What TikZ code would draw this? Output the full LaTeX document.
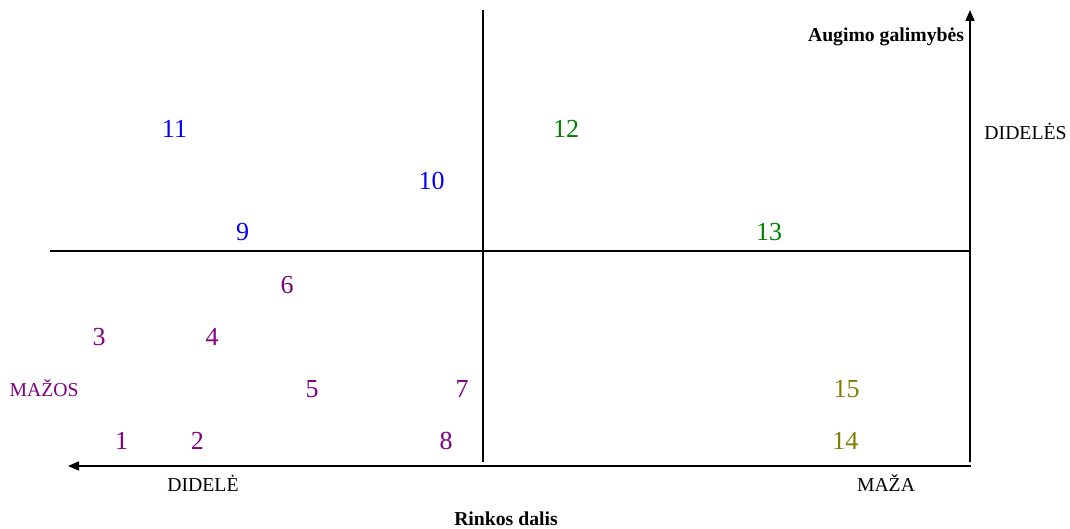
\documentclass[tikz,border=0pt]{standalone}
\usepackage{fontspec}
\setmainfont{Liberation Serif}
\usetikzlibrary{arrows.meta}
\definecolor{cblue}{RGB}{0,0,255}
\definecolor{cgreen}{RGB}{0,128,0}
\definecolor{cpurple}{RGB}{128,0,128}
\definecolor{colive}{RGB}{128,128,0}
\begin{document}
\begin{tikzpicture}[x=1pt,y=-1pt,
  axisline/.style={line width=1.6pt},
  axisarrow/.style={line width=1.6pt,-{Triangle[length=11pt,width=9pt]}},
  num/.style={anchor=base,inner sep=0pt,font=\fontsize{26}{30}\selectfont},
  lab/.style={anchor=base,inner sep=0pt,font=\fontsize{19.7}{23}\selectfont},
  blab/.style={anchor=base,inner sep=0pt,font=\fontsize{19.7}{23}\selectfont\bfseries}]
\useasboundingbox (0,0) rectangle (1070,529);
% coordinates
\coordinate (ctop) at (483,10);
\coordinate (cbot) at (483,462);
\coordinate (mleft) at (50,251);
\coordinate (mright) at (970,251);
\coordinate (origin) at (971,466);
\coordinate (vbot) at (970,462);
\coordinate (ytip) at (970,10);
\coordinate (xtip) at (68,466);
% lines
\draw[axisline] (ctop) -- (cbot);
\draw[axisline] (mleft) -- (mright);
\draw[axisarrow] (vbot) -- (ytip);
\draw[axisarrow] (origin) -- (xtip);
% labels
\node[blab] (ag) at (886,42) {Augimo galimybės};
\node[lab] (dds) at (1025.5,140) {DIDELĖS};
\node[lab,text=cpurple] (mz) at (44,396.5) {MAŽOS};
\node[lab] (dd) at (203,491) {DIDELĖ};
\node[lab] (ma) at (886,491) {MAŽA};
\node[blab] (rd) at (506,525.5) {Rinkos dalis};
% numbers
\node[num,text=cblue] (n11) at (174.5,137.3) {11};
\node[num,text=cblue] (n10) at (431.5,189.3) {10};
\node[num,text=cblue] (n9) at (242.5,241) {9};
\node[num,text=cgreen] (n12) at (566,137.3) {12};
\node[num,text=cgreen] (n13) at (769,241) {13};
\node[num,text=cpurple] (n6) at (287,293) {6};
\node[num,text=cpurple] (n3) at (99,345) {3};
\node[num,text=cpurple] (n4) at (212,345) {4};
\node[num,text=cpurple] (n5) at (312,397) {5};
\node[num,text=cpurple] (n7) at (462,397) {7};
\node[num,text=colive] (n15) at (846.7,397) {15};
\node[num,text=cpurple] (n1) at (121.7,449.3) {1};
\node[num,text=cpurple] (n2) at (197.3,449.3) {2};
\node[num,text=cpurple] (n8) at (446,449.3) {8};
\node[num,text=colive] (n14) at (845.3,449.3) {14};
\end{tikzpicture}
\end{document}
